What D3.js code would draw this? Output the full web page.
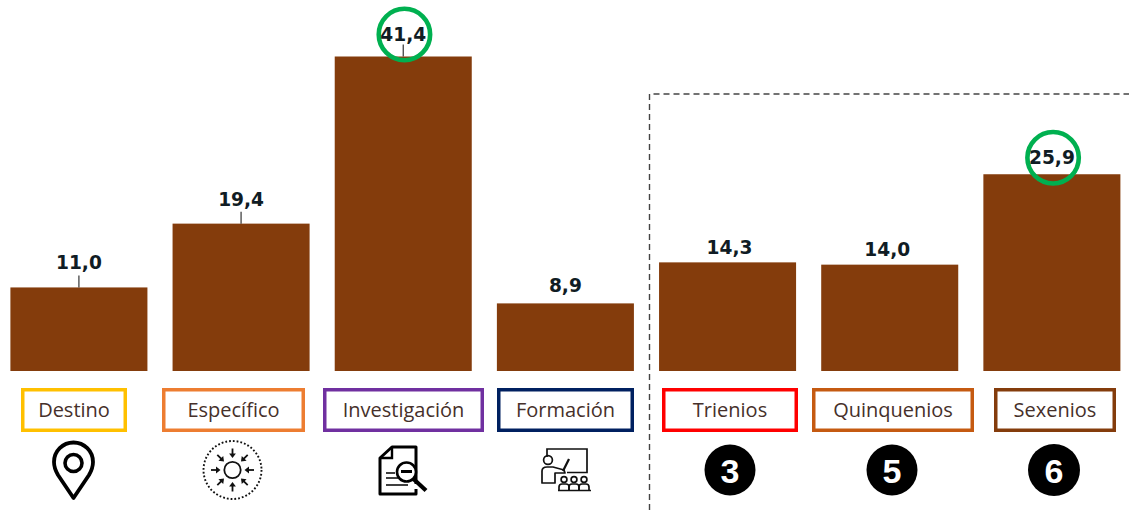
<!DOCTYPE html>
<html><head><meta charset="utf-8">
<script src="https://cdn.jsdelivr.net/npm/d3@7"></script>
<style>html,body{margin:0;background:#fff}svg{display:block}</style></head>
<body><svg id="c" width="1129" height="510"></svg>
<script>
const categories = ["Destino","Específico","Investigación","Formación","Trienios","Quinquenios","Sexenios"];
const values = [11.0,19.4,41.4,8.9,14.3,14.0,25.9];
const valueLabels = ["11,0","19,4","41,4","8,9","14,3","14,0","25,9"];
const boxColors = ["#FFC000","#ED7D31","#7030A0","#002060","#FF0000","#C55A11","#843C0C"];
const highlighted = ["Investigación","Sexenios"];
const hasLeader = ["Destino","Específico","Investigación"];
const numbers = {Trienios:"3",Quinquenios:"5",Sexenios:"6"};

const svg = d3.select("#c");
const x = d3.scaleBand().domain(categories).range([10.4,1120.4]).paddingInner(0.155).paddingOuter(0);
const y = d3.scaleLinear().domain([0,41.4]).range([371,56.5]);

// per-category layout (not data)
const labelGap = {Destino:25.5,"Específico":24.5,"Investigación":22.5,"Formación":18,Trienios:15.5,Quinquenios:15.5,Sexenios:17};
const labelShift = {Trienios:2,Quinquenios:-2.5};
const boxes = {Destino:[21,127],"Específico":[162,305],"Investigación":[323,484],"Formación":[497,634],Trienios:[662,798],Quinquenios:[812,974],Sexenios:[994,1116]};
const iconX = {Destino:73.5,"Específico":232.5,"Investigación":403,"Formación":567,Trienios:730,Quinquenios:892,Sexenios:1054};

// dashed frame
svg.append("path").attr("d","M649.5,510V94H1129").attr("fill","none")
  .attr("stroke","#444").attr("stroke-width",1.4).attr("stroke-dasharray","6 4");

// bars
svg.selectAll("rect.bar").data(categories).join("rect").attr("class","bar")
  .attr("x",d=>x(d)).attr("width",x.bandwidth())
  .attr("y",(d,i)=>y(values[i])).attr("height",(d,i)=>y(0)-y(values[i]))
  .attr("fill","#843C0C");

// leaders
svg.selectAll("line.lead").data(categories.filter(d=>hasLeader.includes(d))).join("line")
  .attr("x1",d=>x(d)+x.bandwidth()/2).attr("x2",d=>x(d)+x.bandwidth()/2)
  .attr("y1",d=>y(values[categories.indexOf(d)])).attr("y2",d=>y(values[categories.indexOf(d)])-12)
  .attr("stroke","#333").attr("stroke-width",1.2);

// highlight circles
svg.selectAll("circle.hl").data(highlighted).join("circle")
  .attr("cx",d=>x(d)+x.bandwidth()/2+1.2)
  .attr("cy",d=>y(values[categories.indexOf(d)])-(d==="Sexenios"?16.5:22))
  .attr("r",25.7).attr("fill","none").attr("stroke","#00B050").attr("stroke-width",4.6);

// value labels
svg.selectAll("text.val").data(categories).join("text")
  .attr("x",d=>x(d)+x.bandwidth()/2+(labelShift[d]||0))
  .attr("y",(d,i)=>y(values[i])-labelGap[d])
  .attr("dy","0.36em").attr("text-anchor","middle")
  .attr("font-family","DejaVu Sans").attr("font-weight","bold").attr("font-size",18.6)
  .attr("fill","#101C24").text((d,i)=>valueLabels[i]);

// category boxes
svg.selectAll("rect.box").data(categories).join("rect")
  .attr("x",d=>boxes[d][0]+1.75).attr("y",389.75)
  .attr("width",d=>boxes[d][1]-boxes[d][0]-3.5).attr("height",40.5)
  .attr("fill","#fff").attr("stroke",(d,i)=>boxColors[i]).attr("stroke-width",3.5);
svg.selectAll("text.cat").data(categories).join("text")
  .attr("x",d=>(boxes[d][0]+boxes[d][1])/2).attr("y",410).attr("dy","0.35em")
  .attr("text-anchor","middle").attr("font-family","Open Sans").attr("font-size",20)
  .attr("fill","#46302A").text(d=>d);

// number badges
Object.keys(numbers).forEach(k=>{
  const g = svg.append("g").attr("transform",`translate(${iconX[k]},470)`);
  g.append("circle").attr("r",k==="Sexenios"?26:25.5).attr("fill","#000");
  g.append("text").attr("y",0.5).attr("dy","0.36em").attr("text-anchor","middle")
   .attr("font-family","Liberation Sans").attr("font-weight","bold").attr("font-size",34)
   .attr("fill","#fff").text(numbers[k]);
});

// pin icon
const pin = svg.append("g").attr("transform",`translate(${iconX["Destino"]},463)`)
  .attr("fill","none").attr("stroke","#000").attr("stroke-width",3.8);
pin.append("path").attr("d","M0,35 L-15.5,12 C-19,6 -19.5,2 -19.5,-1 A19.5,19.5 0 0 1 19.5,-1 C19.5,2 19,6 15.5,12 Z").attr("stroke-linejoin","round");
pin.append("circle").attr("r",8.5).attr("stroke-width",3.6);

// sun icon
const sun = svg.append("g").attr("transform",`translate(${iconX["Específico"]},470)`)
  .attr("fill","none").attr("stroke","#111");
sun.append("circle").attr("r",29).attr("stroke-width",1.9).attr("stroke-dasharray","1.8 2");
sun.append("circle").attr("r",8.2).attr("stroke-width",1.8);
d3.range(8).forEach(i=>{
  const a=sun.append("g").attr("transform",`rotate(${i*45})`);
  a.append("line").attr("x1",0).attr("x2",0).attr("y1",-21.5).attr("y2",-15).attr("stroke-width",1.8);
  a.append("path").attr("d","M-3.4,-16.5 L3.4,-16.5 L0,-12 Z").attr("fill","#111").attr("stroke","none");
});

// document + magnifier icon
const doc = svg.append("g").attr("transform",`translate(${iconX["Investigación"]},470)`)
  .attr("fill","none").attr("stroke","#000");
doc.append("path").attr("d","M13,14 V-23 H-11 L-23,-12 V24 H13 V19").attr("stroke-width",3).attr("stroke-linejoin","round");
doc.append("path").attr("d","M-11,-22 V-12 H-22").attr("stroke-width",2.4);
doc.append("rect").attr("x",-3).attr("y",-11).attr("width",14).attr("height",25).attr("fill","#fff").attr("stroke","none").attr("rx",7);
doc.append("circle").attr("cx",3.5).attr("cy",2).attr("r",9.5).attr("stroke-width",2.6).attr("fill","#fff");
doc.append("path").attr("d","M-2,1.5 H9").attr("stroke-width",3);
doc.append("path").attr("d","M10.5,9 L23,20.5").attr("stroke-width",4.2);
doc.append("path").attr("d","M-17,3 H-8 M-17,8 H-5 M-17,15 H5").attr("stroke-width",1.7);

// teacher icon
const t = svg.append("g").attr("transform",`translate(${iconX["Formación"]},470)`)
  .attr("fill","none").attr("stroke","#111").attr("stroke-width",1.7);
t.append("path").attr("d","M-20,-13 V-21 H20 V2.5 H0");
t.append("circle").attr("cx",-19).attr("cy",-10).attr("r",4.4);
t.append("path").attr("d","M-25,13 V1 Q-25,-3 -20,-3 H-14 L-3,0 L-2,3 L-12,3 V13 Z").attr("stroke-linejoin","round");
t.append("path").attr("d","M-4,1 L2,-11").attr("stroke-width",2.2);
[-3,7,17].forEach(cx=>{
  t.append("circle").attr("cx",cx).attr("cy",9.5).attr("r",2.9);
  t.append("path").attr("d",`M${cx-5},20 V17 Q${cx-5},14 ${cx-2},14 H${cx+2} Q${cx+5},14 ${cx+5},17 V20`);
});
t.append("path").attr("d","M-9,20.5 H24");
</script></body></html>
